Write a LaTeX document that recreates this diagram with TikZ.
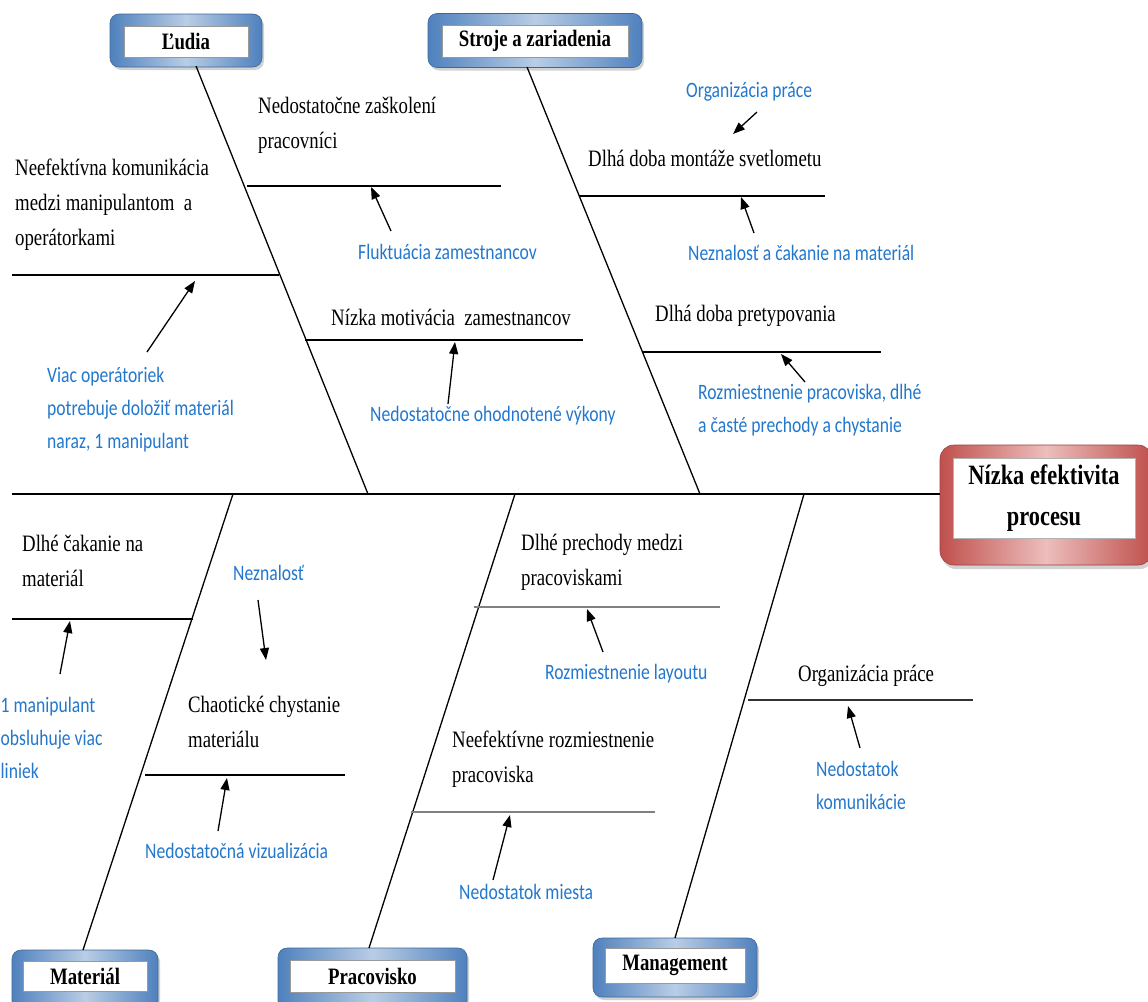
\documentclass[tikz,border=0pt]{standalone}
\usepackage{fontspec}
\setmainfont{Liberation Serif}[FakeStretch=0.8]
\newfontfamily\bluefont{Carlito}[FakeStretch=0.8]
\usetikzlibrary{arrows.meta,shadows}
\definecolor{bluetxt}{RGB}{35,120,205}
\definecolor{frameD}{RGB}{79,129,189}
\definecolor{frameL}{RGB}{185,205,229}
\definecolor{redD}{RGB}{192,80,77}
\definecolor{redL}{RGB}{236,190,188}
\begin{document}
\begin{tikzpicture}[x=1pt,y=-1pt,
  bone/.style={line width=1.3pt,black},
  subbone/.style={line width=1.4pt,black},
  graybone/.style={line width=2.6pt,black!50},
  cause/.style={font=\fontsize{23.5}{35}\selectfont, anchor=west, inner sep=0pt, align=left},
  reason/.style={font=\bluefont\fontsize{22}{33}\selectfont, text=bluetxt, anchor=west, inner sep=0pt, align=left},
  arr/.style={line width=1.3pt,-{Triangle[length=12pt,width=9pt]}},
  catframe/.style={rectangle, rounded corners=9pt, draw=frameD!80!black, line width=0.6pt,
     left color=frameD, right color=frameD, middle color=frameL,
     drop shadow={shadow xshift=2pt, shadow yshift=-3pt, opacity=0.35}},
  headframe/.style={rectangle, rounded corners=14pt, draw=redD!80!black, line width=0.6pt,
     left color=redD, right color=redD, middle color=redL,
     drop shadow={shadow xshift=2pt, shadow yshift=-4pt, opacity=0.35}},
  catinner/.style={rectangle, fill=white, draw=black!40, line width=0.5pt,
     font=\bfseries\fontsize{23.5}{28}\selectfont, inner sep=0pt},
  headinner/.style={rectangle, fill=white, draw=black!30, line width=0.5pt,
     font=\bfseries\fontsize{28}{41}\selectfont, align=center, inner sep=0pt}
]
\useasboundingbox (0,0) rectangle (1148,1001);
\fill[white] (0,0) rectangle (1148,1001);

% ---------- category boxes ----------
\node[catframe, minimum width=152pt, minimum height=53pt] (ludiaF) at (186,40.5) {};
\node[catinner, minimum width=124pt, minimum height=31pt] (ludia) at (186,41.5) {Ľudia};
\node[catframe, minimum width=214pt, minimum height=54pt] (strojeF) at (535,40.5) {};
\node[catinner, minimum width=186pt, minimum height=32pt] (stroje) at (535,41) {Stroje a zariadenia};
\node[catframe, minimum width=146pt, minimum height=60pt] (matF) at (85,980) {};
\node[catinner, minimum width=124pt, minimum height=30pt] (mat) at (85,976) {Materiál};
\node[catframe, minimum width=189pt, minimum height=62pt] (pracF) at (372.5,979) {};
\node[catinner, minimum width=165pt, minimum height=32pt] (prac) at (372.5,976) {Pracovisko};
\node[catframe, minimum width=164pt, minimum height=59pt] (manF) at (675,967.5) {};
\node[catinner, minimum width=140pt, minimum height=35pt] (man) at (675,965.5) {Management};

% ---------- head ----------
\node[headframe, minimum width=212pt, minimum height=120pt] (headF) at (1046,505) {};
\node[headinner, minimum width=182pt, minimum height=80pt] (head) at (1044,498) {Nízka efektivita\\procesu};

% ---------- spine and bones ----------
\coordinate (spineL) at (12,494);
\coordinate (spineR) at (940,494);
\draw[line width=1.4pt] (spineL) -- (spineR);

\coordinate (b1t) at (196,66);  \coordinate (b1b) at (368,494);
\coordinate (b2t) at (527,67);  \coordinate (b2b) at (700,494);
\coordinate (b3t) at (233,494); \coordinate (b3b) at (83,950);
\coordinate (b4t) at (515,494); \coordinate (b4b) at (369,948);
\coordinate (b5t) at (804,494); \coordinate (b5b) at (675,938);
\draw[bone] (b1t) -- (b1b);
\draw[bone] (b2t) -- (b2b);
\draw[bone] (b3t) -- (b3b);
\draw[bone] (b4t) -- (b4b);
\draw[bone] (b5t) -- (b5b);

% sub-bones
\coordinate (s1a) at (247,186); \coordinate (s1b) at (501,186);
\coordinate (s2a) at (12,275);  \coordinate (s2b) at (279,275);
\coordinate (s3a) at (305,340); \coordinate (s3b) at (583,340);
\coordinate (s4a) at (579,196); \coordinate (s4b) at (825,196);
\coordinate (s5a) at (642,352); \coordinate (s5b) at (881,352);
\coordinate (s6a) at (12,619);  \coordinate (s6b) at (193,619);
\coordinate (s7a) at (145,775); \coordinate (s7b) at (345,775);
\coordinate (s8a) at (474,607); \coordinate (s8b) at (720,607);
\coordinate (s9a) at (411,812); \coordinate (s9b) at (655,812);
\coordinate (s10a) at (748,700); \coordinate (s10b) at (973,700);
\draw[subbone] (s1a) -- (s1b);
\draw[subbone] (s2a) -- (s2b);
\draw[subbone] (s3a) -- (s3b);
\draw[subbone] (s4a) -- (s4b);
\draw[subbone] (s5a) -- (s5b);
\draw[subbone] (s6a) -- (s6b);
\draw[subbone] (s7a) -- (s7b);
\draw[graybone] (s8a) -- (s8b);
\draw[graybone] (s9a) -- (s9b);
\draw[line width=1.6pt,black!80] (s10a) -- (s10b);

% ---------- causes (black) ----------
\node[cause] (c1) at (258,125) {Nedostatočne zaškolení\\pracovníci};
\node[cause] (c2) at (15,205) {Neefektívna komunikácia\\medzi manipulantom~ a\\operátorkami};
\node[cause] (c3) at (331,317) {Nízka motivácia~ zamestnancov};
\node[cause] (c4) at (588,158) {Dlhá doba montáže svetlometu};
\node[cause] (c5) at (655,316) {Dlhá doba pretypovania};
\node[cause] (c6) at (22,561) {Dlhé čakanie na\\materiál};
\node[cause] (c7) at (188,722) {Chaotické chystanie\\materiálu};
\node[cause] (c8) at (521,562) {Dlhé prechody medzi\\pracoviskami};
\node[cause] (c9) at (452,759) {Neefektívne rozmiestnenie\\pracoviska};
\node[cause] (c10) at (798,676) {Organizácia práce};

% ---------- reasons (blue) ----------
\node[reason] (r1) at (686,92) {Organizácia práce};
\node[reason] (r2) at (358,252) {Fluktuácia zamestnancov};
\node[reason] (r3) at (688,253) {Neznalosť a čakanie na materiál};
\node[reason] (r4) at (47,410) {Viac operátoriek\\potrebuje doložiť materiál\\naraz, 1 manipulant};
\node[reason] (r5) at (370,416) {Nedostatočne ohodnotené výkony};
\node[reason] (r6) at (698,410.5) {Rozmiestnenie pracoviska, dlhé\\a časté prechody a chystanie};
\node[reason] (r7) at (233,573) {Neznalosť};
\node[reason] (r8) at (0.5,738) {1 manipulant\\obsluhuje viac\\liniek};
\node[reason] (r9) at (545,674) {Rozmiestnenie layoutu};
\node[reason] (r10) at (816,785.5) {Nedostatok\\komunikácie};
\node[reason] (r11) at (145,851) {Nedostatočná vizualizácia};
\node[reason] (r12) at (459,892) {Nedostatok miesta};

% ---------- arrows ----------
\coordinate (t1) at (757,112); \coordinate (h1) at (733,134);
\coordinate (t2) at (391,231); \coordinate (h2) at (371,187);
\coordinate (t3) at (754,233); \coordinate (h3) at (741,197);
\coordinate (t4) at (147,352); \coordinate (h4) at (195,281);
\coordinate (t5) at (448,404); \coordinate (h5) at (455,342);
\coordinate (t6) at (805,382); \coordinate (h6) at (781,354);
\coordinate (t7) at (60,674);  \coordinate (h7) at (70,621);
\coordinate (t8) at (258,600); \coordinate (h8) at (266,660);
\coordinate (t9) at (603,652); \coordinate (h9) at (587,609);
\coordinate (t10) at (218,831); \coordinate (h10) at (227,778);
\coordinate (t11) at (493,880); \coordinate (h11) at (510,815);
\coordinate (t12) at (860,748); \coordinate (h12) at (848,706);
\foreach \i in {1,...,12} {\draw[arr] (t\i) -- (h\i);}
\end{tikzpicture}
\end{document}
